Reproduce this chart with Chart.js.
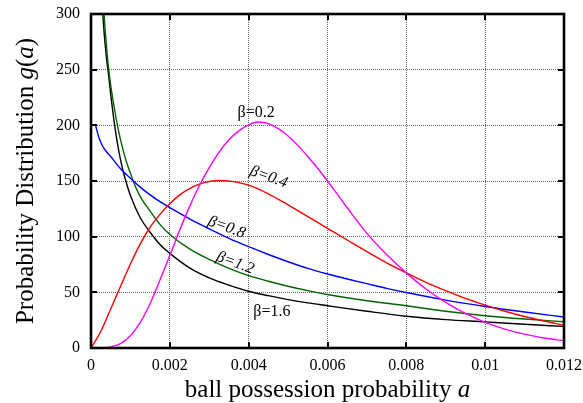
<!DOCTYPE html>
<html>
<head>
<meta charset="utf-8">
<script src="https://cdn.jsdelivr.net/npm/chart.js@4/dist/chart.umd.min.js"></script>
<style>
  html, body { margin: 0; padding: 0; background: #fff; }
  #wrap { width: 583px; height: 403px; }
</style>
</head>
<body>
<div id="wrap"><canvas id="c" width="583" height="403"></canvas></div>
<script>
// Tick labels
const xTickLabels = ['0', '0.002', '0.004', '0.006', '0.008', '0.01', '0.012'];
const yTickLabels = ['0', '50', '100', '150', '200', '250', '300'];

// Curve names
const seriesNames = ['β=0.2', 'β=0.4', 'β=0.8', 'β=1.2', 'β=1.6'];

// β = 0.2
const a02 = [0, 0.0004, 0.0005, 0.00075, 0.001, 0.00125, 0.0015, 0.00175, 0.002, 0.00225, 0.0025, 0.00275, 0.003, 0.00325, 0.0035, 0.00375, 0.004, 0.00425, 0.0045, 0.00475, 0.005, 0.00525, 0.0055, 0.00575, 0.006, 0.00625, 0.0065, 0.007, 0.0075, 0.008, 0.0085, 0.009, 0.0095, 0.01, 0.0105, 0.011, 0.0115, 0.012];
const g02 = [0, 0.3, 1, 4, 11, 23, 40, 61, 83, 106, 127, 146, 162, 176, 187, 195, 200.5, 203, 201.5, 197, 190.5, 182, 172, 161.5, 150, 138, 126, 103, 84, 67.5, 53, 41, 31, 23, 17, 12.5, 9, 6.5];

// β = 0.4
const a04 = [0, 0.00025, 0.0005, 0.00075, 0.001, 0.00125, 0.0015, 0.00175, 0.002, 0.00225, 0.0025, 0.00275, 0.003, 0.00325, 0.0035, 0.00375, 0.004, 0.0045, 0.005, 0.0055, 0.006, 0.0065, 0.007, 0.0075, 0.008, 0.0085, 0.009, 0.0095, 0.01, 0.0105, 0.011, 0.0115, 0.012];
const g04 = [0, 15, 35, 55.5, 75.5, 93.5, 108.5, 120, 129.5, 137.5, 143.2, 147.2, 149.6, 150.4, 150, 148.5, 146.3, 138.5, 128.5, 118, 107.5, 97, 86.5, 76.5, 67.5, 59, 51.5, 44.5, 38.5, 33, 28.3, 24.2, 20.5];

// β = 0.8
const a08 = [0.00011, 0.0002, 0.0003, 0.0004, 0.0005, 0.00075, 0.001, 0.00125, 0.0015, 0.00175, 0.002, 0.0025, 0.003, 0.0035, 0.004, 0.0045, 0.005, 0.0055, 0.006, 0.0065, 0.007, 0.0075, 0.008, 0.009, 0.01, 0.011, 0.012];
const g08 = [201, 189, 181, 176, 172, 161, 152.5, 144.5, 137.5, 131.5, 126, 116, 107, 98.5, 91, 84, 77.5, 71.5, 66.5, 62, 57.8, 53.6, 49.8, 43, 37.3, 32.3, 27.8];

// β = 1.2
const a12 = [0.00028, 0.00033, 0.0004, 0.00045, 0.0005, 0.0006, 0.00067, 0.00075, 0.0009, 0.001, 0.00107, 0.00125, 0.0015, 0.00175, 0.002, 0.0025, 0.003, 0.0035, 0.004, 0.0045, 0.005, 0.0055, 0.006, 0.007, 0.008, 0.009, 0.01, 0.011, 0.012];
const g12 = [330, 300, 268, 250, 236, 214, 200, 187, 167, 157, 150, 136, 123, 111, 102, 89, 79.5, 71.5, 65, 60, 55.5, 51.5, 48, 42.5, 38, 33, 29, 26, 23.6];

// β = 1.6
const a16 = [0.00026, 0.0003, 0.00035, 0.0004, 0.00043, 0.0005, 0.0006, 0.0007, 0.0008, 0.0009, 0.001, 0.00125, 0.0015, 0.00175, 0.002, 0.0025, 0.003, 0.0035, 0.004, 0.0045, 0.005, 0.0055, 0.006, 0.007, 0.008, 0.009, 0.01, 0.011, 0.012];
const g16 = [330, 300, 276, 258, 250, 228, 200, 178, 161, 148, 137, 117, 104, 93, 85, 72, 63, 56.5, 51, 47, 43.5, 40.5, 38, 33, 28.5, 25.5, 23.5, 21.3, 19.4];

const SERIF = '"Liberation Serif", "Times New Roman", serif';

function pts(xs, ys) { return xs.map((v, i) => ({ x: v, y: ys[i] })); }

const curves = [
  { data: pts(a02, g02), color: '#ff00ff' },
  { data: pts(a04, g04), color: '#ff0000' },
  { data: pts(a08, g08), color: '#0000ff' },
  { data: pts(a12, g12), color: '#006400' },
  { data: pts(a16, g16), color: '#000000' }
];

// In-plot curve annotations (anchored in data units)
const curveLabels = [
  { text: seriesNames[0], a: 0.00419, g: 211,   rot: 0,  italic: false },
  { text: seriesNames[1], a: 0.00451, g: 153.5, rot: 20, italic: true },
  { text: seriesNames[2], a: 0.00344, g: 108.4, rot: 20, italic: true },
  { text: seriesNames[3], a: 0.00366, g: 76.3,  rot: 20, italic: true },
  { text: seriesNames[4], a: 0.00459, g: 32.3,  rot: 0,  italic: false }
];

// Draws text made of upright and italic runs
function drawRuns(ctx, runs, size, cx, cy) {
  const widths = runs.map(r => {
    ctx.font = (r.italic ? 'italic ' : '') + size + 'px ' + SERIF;
    return ctx.measureText(r.t).width;
  });
  const total = widths.reduce((s, w) => s + w, 0);
  let x = cx - total / 2;
  runs.forEach((r, i) => {
    ctx.font = (r.italic ? 'italic ' : '') + size + 'px ' + SERIF;
    ctx.fillText(r.t, x, cy);
    x += widths[i];
  });
}

const frameAndText = {
  id: 'frameAndText',
  afterDatasetsDraw(chart) {
    const { ctx, chartArea: ca, scales: { x, y } } = chart;
    ctx.save();
    ctx.strokeStyle = '#000';
    ctx.lineWidth = 2;
    const tl = 6;
    x.ticks.forEach(t => {
      const px = Math.round(x.getPixelForValue(t.value));
      ctx.beginPath();
      ctx.moveTo(px, ca.bottom); ctx.lineTo(px, ca.bottom - tl);
      ctx.moveTo(px, ca.top); ctx.lineTo(px, ca.top + tl);
      ctx.stroke();
    });
    y.ticks.forEach(t => {
      const py = Math.round(y.getPixelForValue(t.value));
      ctx.beginPath();
      ctx.moveTo(ca.left, py); ctx.lineTo(ca.left + tl, py);
      ctx.moveTo(ca.right, py); ctx.lineTo(ca.right - tl, py);
      ctx.stroke();
    });
    ctx.lineWidth = 2.6;
    ctx.strokeRect(ca.left, ca.top, ca.right - ca.left, ca.bottom - ca.top);

    // curve annotations
    ctx.fillStyle = '#000';
    ctx.textAlign = 'center';
    ctx.textBaseline = 'middle';
    curveLabels.forEach(l => {
      const px = x.getPixelForValue(l.a);
      const py = y.getPixelForValue(l.g);
      ctx.save();
      ctx.translate(px, py);
      ctx.rotate(l.rot * Math.PI / 180);
      ctx.font = (l.italic ? 'italic ' : '') + '16px ' + SERIF;
      ctx.fillText(l.text, 0, 0);
      ctx.restore();
    });

    // axis titles
    ctx.textAlign = 'left';
    ctx.textBaseline = 'alphabetic';
    drawRuns(ctx, [
      { t: 'ball possession probability ', italic: false },
      { t: 'a', italic: true }
    ], 25, (ca.left + ca.right) / 2, 397);

    ctx.save();
    ctx.translate(33, (ca.top + ca.bottom) / 2);
    ctx.rotate(-Math.PI / 2);
    drawRuns(ctx, [
      { t: 'Probability Distribution ', italic: false },
      { t: 'g', italic: true },
      { t: '(', italic: false },
      { t: 'a', italic: true },
      { t: ')', italic: false }
    ], 25, 0, 0);
    ctx.restore();
    ctx.restore();
  }
};

new Chart(document.getElementById('c'), {
  type: 'line',
  data: {
    datasets: curves.map((c, i) => ({
      label: seriesNames[i],
      data: c.data,
      borderColor: c.color,
      backgroundColor: c.color,
      borderWidth: 1.4,
      pointRadius: 0,
      fill: false,
      cubicInterpolationMode: 'monotone'
    }))
  },
  options: {
    responsive: false,
    animation: false,
    devicePixelRatio: 1,
    layout: { padding: { top: 14, right: 19, left: 0, bottom: 0 } },
    plugins: { legend: { display: false }, tooltip: { enabled: false }, title: { display: false } },
    scales: {
      x: {
        type: 'linear',
        min: 0, max: 0.012,
        ticks: {
          stepSize: 0.002,
          padding: 8,
          color: '#000',
          font: { family: SERIF, size: 16 },
          maxRotation: 0,
          callback: v => xTickLabels[Math.round(v / 0.002)]
        },
        grid: { color: '#666', lineWidth: 1, drawTicks: false },
        border: { display: false, dash: [1, 1] },
        afterFit: s => { s.height = 55; s.paddingLeft = 0; s.paddingRight = 0; }
      },
      y: {
        type: 'linear',
        min: 0, max: 300,
        ticks: {
          stepSize: 50,
          padding: 11,
          color: '#000',
          font: { family: SERIF, size: 16 },
          callback: v => yTickLabels[Math.round(v / 50)]
        },
        grid: { color: '#666', lineWidth: 1, drawTicks: false },
        border: { display: false, dash: [1, 1] },
        afterFit: s => { s.width = 91; s.paddingTop = 0; s.paddingBottom = 0; }
      }
    }
  },
  plugins: [frameAndText]
});
</script>
</body>
</html>
